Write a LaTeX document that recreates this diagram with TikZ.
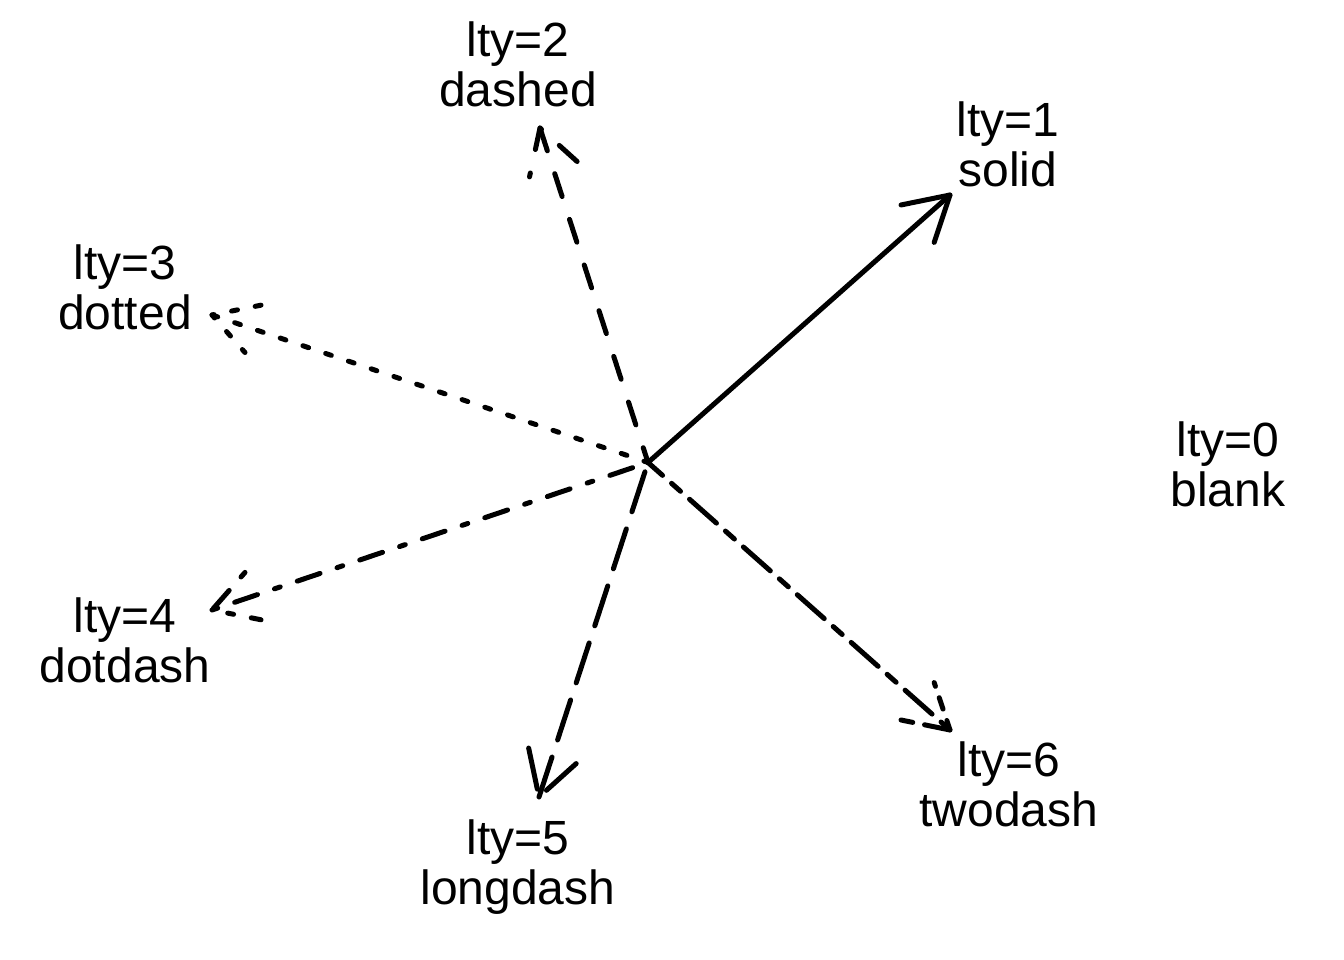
\documentclass[tikz,border=0pt]{standalone}
\usepackage{fontspec}
\setmainfont{Liberation Sans}
\usetikzlibrary{calc}
\begin{document}
\begin{tikzpicture}[x=1pt,y=1pt,
  arr/.style={line width=5pt, line cap=round, line join=round},
  ltyb/.style={dash pattern=on 24pt off 24pt},
  ltyc/.style={dash pattern=on 6pt off 18pt},
  ltyd/.style={dash pattern=on 6pt off 18pt on 24pt off 18pt},
  ltye/.style={dash pattern=on 42pt off 18pt},
  ltyf/.style={dash pattern=on 12pt off 12pt on 36pt off 12pt},
  lbl/.style={align=center, inner sep=0pt, font=\fontsize{48}{50}\selectfont}]
\useasboundingbox (0,0) rectangle (1344,960);
\coordinate (c) at (648,497.5);
\coordinate (t1) at (950,765);
\coordinate (t2) at (540,832);
\coordinate (t3) at (212,645);
\coordinate (t4) at (212,350);
\coordinate (t5) at (539,163);
\coordinate (t6) at (950,230);
% labels
\node[lbl] (l1) at (1008,808) {\strut lty=1\\\strut solid};
\node[lbl] (l2) at (518,888) {\strut lty=2\\\strut dashed};
\node[lbl] (l3) at (125,665) {\strut lty=3\\\strut dotted};
\node[lbl] (l0) at (1228,488) {\strut lty=0\\\strut blank};
\node[lbl] (l4) at (125,312) {\strut lty=4\\\strut dotdash};
\node[lbl] (l5) at (518,90) {\strut lty=5\\\strut longdash};
\node[lbl] (l6) at (1009,168) {\strut lty=6\\\strut twodash};
% arrows
\draw[arr] (t1) -- (c);
\draw[arr] ($(t1)!50pt!30:(c)$) -- (t1) -- ($(t1)!50pt!-30:(c)$);
\draw[arr,ltyb] (t2) -- (c);
\draw[arr,ltyb] ($(t2)!50pt!30:(c)$) -- (t2) -- ($(t2)!50pt!-30:(c)$);
\draw[arr,ltyc] (t3) -- (c);
\draw[arr,ltyc] ($(t3)!50pt!30:(c)$) -- (t3) -- ($(t3)!50pt!-30:(c)$);
\draw[arr,ltyd] (t4) -- (c);
\draw[arr,ltyd] ($(t4)!50pt!30:(c)$) -- (t4) -- ($(t4)!50pt!-30:(c)$);
\draw[arr,ltye] (t5) -- (c);
\draw[arr,ltye] ($(t5)!50pt!30:(c)$) -- (t5) -- ($(t5)!50pt!-30:(c)$);
\draw[arr,ltyf] (t6) -- (c);
\draw[arr,ltyf] ($(t6)!50pt!30:(c)$) -- (t6) -- ($(t6)!50pt!-30:(c)$);
\end{tikzpicture}
\end{document}
